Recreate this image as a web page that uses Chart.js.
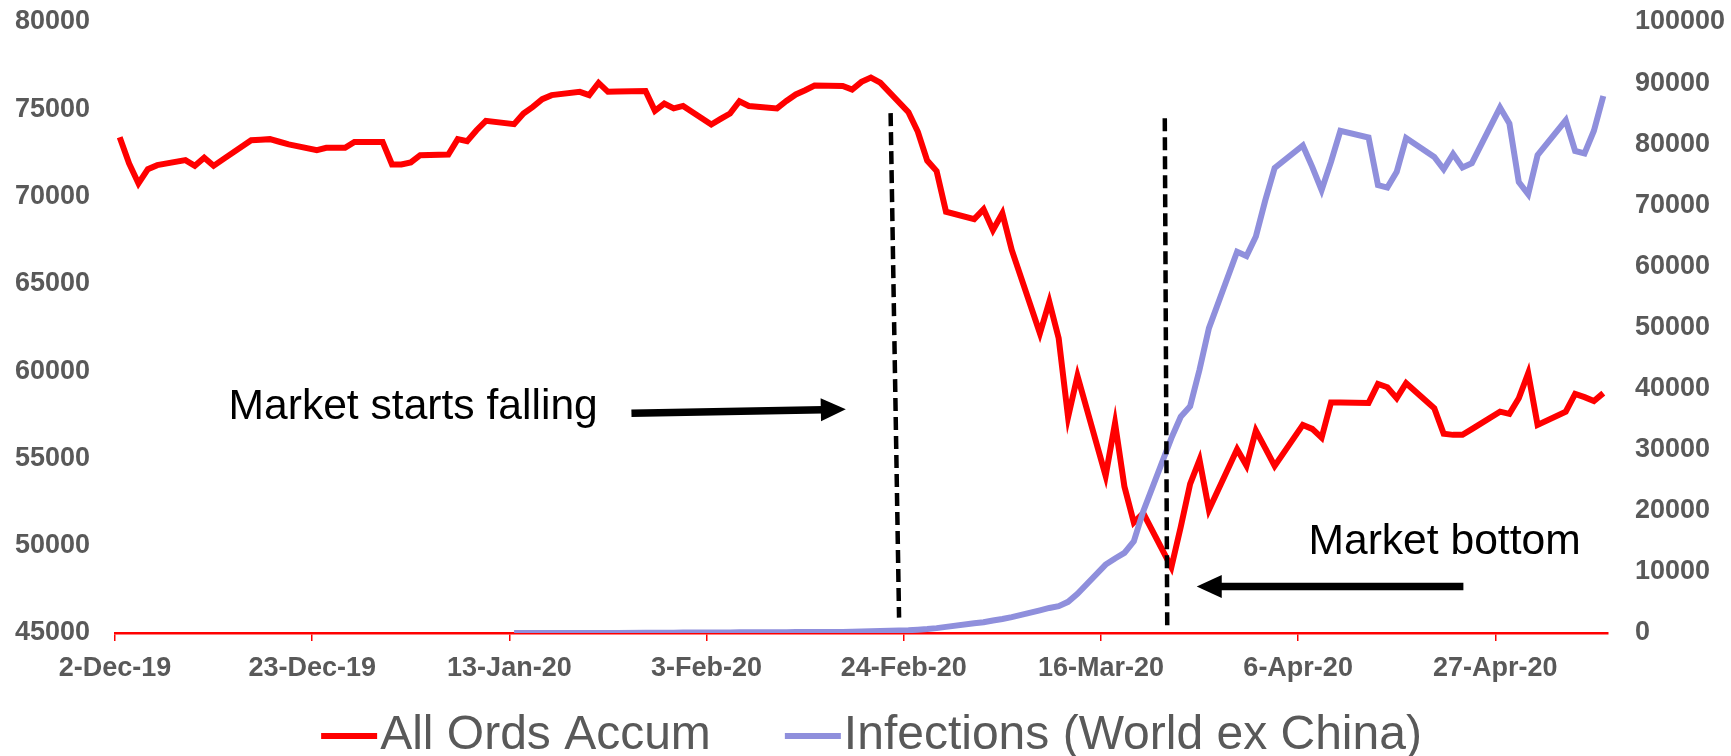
<!DOCTYPE html>
<html>
<head>
<meta charset="utf-8">
<script src="https://cdn.jsdelivr.net/npm/chart.js@4.4.1/dist/chart.umd.min.js"></script>
<style>
  html, body { margin: 0; padding: 0; background: #ffffff; }
  #wrap { width: 1731px; height: 756px; }
</style>
</head>
<body>
<div id="wrap"><canvas id="chart" width="1731" height="756"></canvas></div>
<script>
// Trading days (ASX holidays carry the previous close)
const tradingDays = [
  '2019-12-02','2019-12-03','2019-12-04','2019-12-05','2019-12-06','2019-12-09','2019-12-10','2019-12-11','2019-12-12','2019-12-13',
  '2019-12-16','2019-12-17','2019-12-18','2019-12-19','2019-12-20','2019-12-23','2019-12-24','2019-12-25','2019-12-26','2019-12-27',
  '2019-12-30','2019-12-31',
  '2020-01-01','2020-01-02','2020-01-03','2020-01-06','2020-01-07','2020-01-08','2020-01-09','2020-01-10','2020-01-13','2020-01-14',
  '2020-01-15','2020-01-16','2020-01-17','2020-01-20','2020-01-21','2020-01-22','2020-01-23','2020-01-24','2020-01-27','2020-01-28',
  '2020-01-29','2020-01-30','2020-01-31',
  '2020-02-03','2020-02-04','2020-02-05','2020-02-06','2020-02-07','2020-02-10','2020-02-11','2020-02-12','2020-02-13','2020-02-14',
  '2020-02-17','2020-02-18','2020-02-19','2020-02-20','2020-02-21','2020-02-24','2020-02-25','2020-02-26','2020-02-27','2020-02-28',
  '2020-03-02','2020-03-03','2020-03-04','2020-03-05','2020-03-06','2020-03-09','2020-03-10','2020-03-11','2020-03-12','2020-03-13',
  '2020-03-16','2020-03-17','2020-03-18','2020-03-19','2020-03-20','2020-03-23','2020-03-24','2020-03-25','2020-03-26','2020-03-27',
  '2020-03-30','2020-03-31',
  '2020-04-01','2020-04-02','2020-04-03','2020-04-06','2020-04-07','2020-04-08','2020-04-09','2020-04-10','2020-04-13','2020-04-14',
  '2020-04-15','2020-04-16','2020-04-17','2020-04-20','2020-04-21','2020-04-22','2020-04-23','2020-04-24','2020-04-27','2020-04-28',
  '2020-04-29','2020-04-30',
  '2020-05-01','2020-05-04','2020-05-05','2020-05-06','2020-05-07','2020-05-08'
];

// All Ordinaries Accumulation index (left axis)
const allOrdsAccum = [
  73400, 71900, 70750, 71570, 71800, 72090, 71760, 72220, 71760, 72130,
  73230, 73260, 73290, 73140, 72990, 72660, 72790, 72790, 72790, 73130,
  73130, 71840,
  71840, 71960, 72370, 72410, 73290, 73170, 73800, 74340, 74150, 74760,
  75140, 75580, 75810, 76000, 75810, 76510, 76000, 76020, 76050, 74910,
  75330, 75050, 75190,
  74130, 74450, 74760, 75460, 75190, 75050, 75480, 75850, 76090, 76360,
  76340, 76130, 76570, 76820, 76530, 74830, 73710, 72060, 71460, 69130,
  68710, 69270, 68080, 69040, 66940, 62170, 63980, 61880, 57360, 59730,
  54000, 57020, 53390, 51330, 51870, 48770, 51080, 53540, 54920, 52060,
  55530, 54590,
  56590, 55590, 54570, 56920, 56690, 56190, 58200, 58200, 58180, 59270,
  59080, 58450, 59310, 57880, 56410, 56350, 56350, 56680, 57680, 57550,
  58450, 59880,
  56920, 57680, 58700, 58510, 58290, 58740
];

// Daily new infections, world excluding China (right axis)
const infectionsExChina = [
  null, null, null, null, null, null, null, null, null, null,
  null, null, null, null, null, null, null, null, null, null,
  null, null,
  null, null, null, null, null, null, null, null, 1, 1,
  2, 3, 4, 6, 8, 10, 14, 20, 30, 40,
  50, 60, 70,
  80, 90, 100, 110, 120, 130, 140, 150, 160, 170,
  180, 200, 230, 270, 330, 450, 550, 650, 800, 1000,
  1600, 1750, 2050, 2300, 2600, 3700, 4100, 4400, 5100, 6400,
  11200, 12200, 13100, 15000, 19900, 31900, 35400, 37100, 43100, 49900,
  62400, 61700,
  64900, 70800, 76100, 79800, 76300, 72500, 77100, 82200, 81100, 73300,
  72900, 75500, 81000, 77900, 75900, 78400, 76200, 76900, 86000, 83400,
  73800, 71800,
  78200, 83900, 78900, 78500, 82200, 87900
];

const seriesNames = ['All Ords Accum', 'Infections (World ex China)'];

// Date axis: one slot per calendar day, labels every three weeks
const axisStart = '2019-12-02';
const axisEnd = '2020-05-09';
const tickDates = ['2019-12-02','2019-12-23','2020-01-13','2020-02-03','2020-02-24','2020-03-16','2020-04-06','2020-04-27'];
const tickLabels = ['2-Dec-19','23-Dec-19','13-Jan-20','3-Feb-20','24-Feb-20','16-Mar-20','6-Apr-20','27-Apr-20'];

const dayNo = s => (Date.parse(s + 'T00:00:00Z') - Date.parse(axisStart + 'T00:00:00Z')) / 86400000;

// Callouts, positioned in axis units (days since start, left-axis value)
const callouts = {
  dashed: [
    { x1: 82.6, y1: 74780, x2: 83.5, y2: 45880 },
    { x1: 111.8, y1: 74490, x2: 112.06, y2: 45360 }
  ],
  arrows: [
    { x1: 55.0, y1: 57590, x2: 77.83, y2: 57820 },
    { x1: 143.6, y1: 47667, x2: 115.2, y2: 47667 }
  ],
  notes: [
    { text: 'Market starts falling', x: 12.09, y: 57247 },
    { text: 'Market bottom', x: 127.1, y: 49538 }
  ]
};

const GREY = '#595959';
const RED = '#FF0000';
const LILAC = '#8F8FDC';
const FAMILY = '"Liberation Sans", Arial, sans-serif';

const calloutPlugin = {
  id: 'callouts',
  afterDatasetsDraw(chart) {
    const { ctx } = chart;
    const xs = chart.scales.x, ys = chart.scales.y;
    const px = v => xs.getPixelForValue(v);
    const py = v => ys.getPixelForValue(v);
    ctx.save();
    // dashed guide lines
    ctx.strokeStyle = '#000000';
    ctx.lineWidth = 4.5;
    ctx.setLineDash([13, 6]);
    callouts.dashed.forEach(d => {
      ctx.beginPath();
      ctx.moveTo(px(d.x1), py(d.y1));
      ctx.lineTo(px(d.x2), py(d.y2));
      ctx.stroke();
    });
    ctx.setLineDash([]);
    // arrows
    callouts.arrows.forEach(a => {
      const x1 = px(a.x1), y1 = py(a.y1), x2 = px(a.x2), y2 = py(a.y2);
      const ang = Math.atan2(y2 - y1, x2 - x1);
      const headLen = 25, headHalf = 11.5;
      const bx = x2 - Math.cos(ang) * headLen, by = y2 - Math.sin(ang) * headLen;
      ctx.strokeStyle = '#000000';
      ctx.lineWidth = 7.5;
      ctx.beginPath();
      ctx.moveTo(x1, y1);
      ctx.lineTo(bx + Math.cos(ang) * 2, by + Math.sin(ang) * 2);
      ctx.stroke();
      ctx.fillStyle = '#000000';
      ctx.beginPath();
      ctx.moveTo(x2, y2);
      ctx.lineTo(bx - Math.sin(ang) * headHalf, by + Math.cos(ang) * headHalf);
      ctx.lineTo(bx + Math.sin(ang) * headHalf, by - Math.cos(ang) * headHalf);
      ctx.closePath();
      ctx.fill();
    });
    // notes
    ctx.fillStyle = '#000000';
    ctx.font = '42.6px ' + FAMILY;
    ctx.textAlign = 'left';
    ctx.textBaseline = 'alphabetic';
    callouts.notes.forEach(n => ctx.fillText(n.text, px(n.x), py(n.y)));
    ctx.restore();
  }
};

// Legend row drawn under the axis, line sample followed by the series name
const legendRow = {
  id: 'legendRow',
  afterDraw(chart) {
    const { ctx } = chart;
    const sample = 56, gap = 3, itemGap = 74, rowY = 736;
    ctx.save();
    ctx.font = '48px ' + FAMILY;
    const items = chart.data.datasets.map(ds => ({
      label: ds.label, color: ds.borderColor, w: ctx.measureText(ds.label).width
    }));
    const total = items.reduce((s, it) => s + sample + gap + it.w, 0) + itemGap * (items.length - 1);
    let x = chart.width / 2 + 6 - total / 2;
    items.forEach(it => {
      ctx.strokeStyle = it.color;
      ctx.lineWidth = 6;
      ctx.beginPath();
      ctx.moveTo(x, rowY);
      ctx.lineTo(x + sample, rowY);
      ctx.stroke();
      ctx.fillStyle = GREY;
      ctx.textBaseline = 'middle';
      ctx.textAlign = 'left';
      ctx.fillText(it.label, x + sample + gap, rowY);
      x += sample + gap + it.w + itemGap;
    });
    ctx.restore();
  }
};

const toPoints = values => tradingDays.map((d, i) => ({ x: dayNo(d) + 0.5, y: values[i] }));

// vertical axes keep a fixed width and add no extra top/bottom room
const fixVertical = w => scale => {
  scale.width = w;
  scale.paddingTop = 0;
  scale.paddingBottom = 0;
};

new Chart(document.getElementById('chart'), {
  type: 'line',
  data: {
    datasets: [
      {
        label: seriesNames[0],
        data: toPoints(allOrdsAccum),
        yAxisID: 'y',
        borderColor: RED,
        backgroundColor: RED,
        borderWidth: 6,
        pointRadius: 0,
        tension: 0,
        order: 1
      },
      {
        label: seriesNames[1],
        data: toPoints(infectionsExChina),
        yAxisID: 'y2',
        borderColor: LILAC,
        backgroundColor: LILAC,
        borderWidth: 6,
        pointRadius: 0,
        tension: 0,
        spanGaps: false,
        order: 0
      }
    ]
  },
  options: {
    responsive: false,
    devicePixelRatio: 1,
    animation: false,
    layout: { padding: { top: 22, left: 0, right: 0, bottom: 0 } },
    plugins: {
      legend: { display: false },
      tooltip: { enabled: false }
    },
    scales: {
      x: {
        type: 'linear',
        min: dayNo(axisStart),
        max: dayNo(axisEnd),
        afterBuildTicks: scale => { scale.ticks = tickDates.map(d => ({ value: dayNo(d) })); },
        afterFit: scale => { scale.height = 123; scale.paddingLeft = 0; scale.paddingRight = 0; },
        grid: { display: true, drawOnChartArea: false, drawTicks: true, tickLength: 8, color: RED, lineWidth: 1.5 },
        border: { display: true, color: RED, width: 2.5 },
        ticks: {
          autoSkip: false,
          maxRotation: 0,
          minRotation: 0,
          padding: 11,
          color: GREY,
          font: { family: FAMILY, size: 27, weight: 'bold' },
          callback: value => {
            const i = tickDates.findIndex(d => dayNo(d) === value);
            return i >= 0 ? tickLabels[i] : '';
          }
        }
      },
      y: {
        position: 'left',
        min: 45000,
        max: 80000,
        afterFit: fixVertical(115),
        grid: { display: false, drawTicks: false },
        border: { display: false },
        ticks: {
          stepSize: 5000,
          padding: 25,
          color: GREY,
          font: { family: FAMILY, size: 27, weight: 'bold' },
          callback: v => String(v)
        }
      },
      y2: {
        position: 'right',
        min: 0,
        max: 100000,
        afterFit: fixVertical(123),
        grid: { display: false, drawTicks: false },
        border: { display: false },
        ticks: {
          stepSize: 10000,
          padding: 27,
          color: GREY,
          font: { family: FAMILY, size: 27, weight: 'bold' },
          callback: v => String(v)
        }
      }
    }
  },
  plugins: [calloutPlugin, legendRow]
});
</script>
</body>
</html>
